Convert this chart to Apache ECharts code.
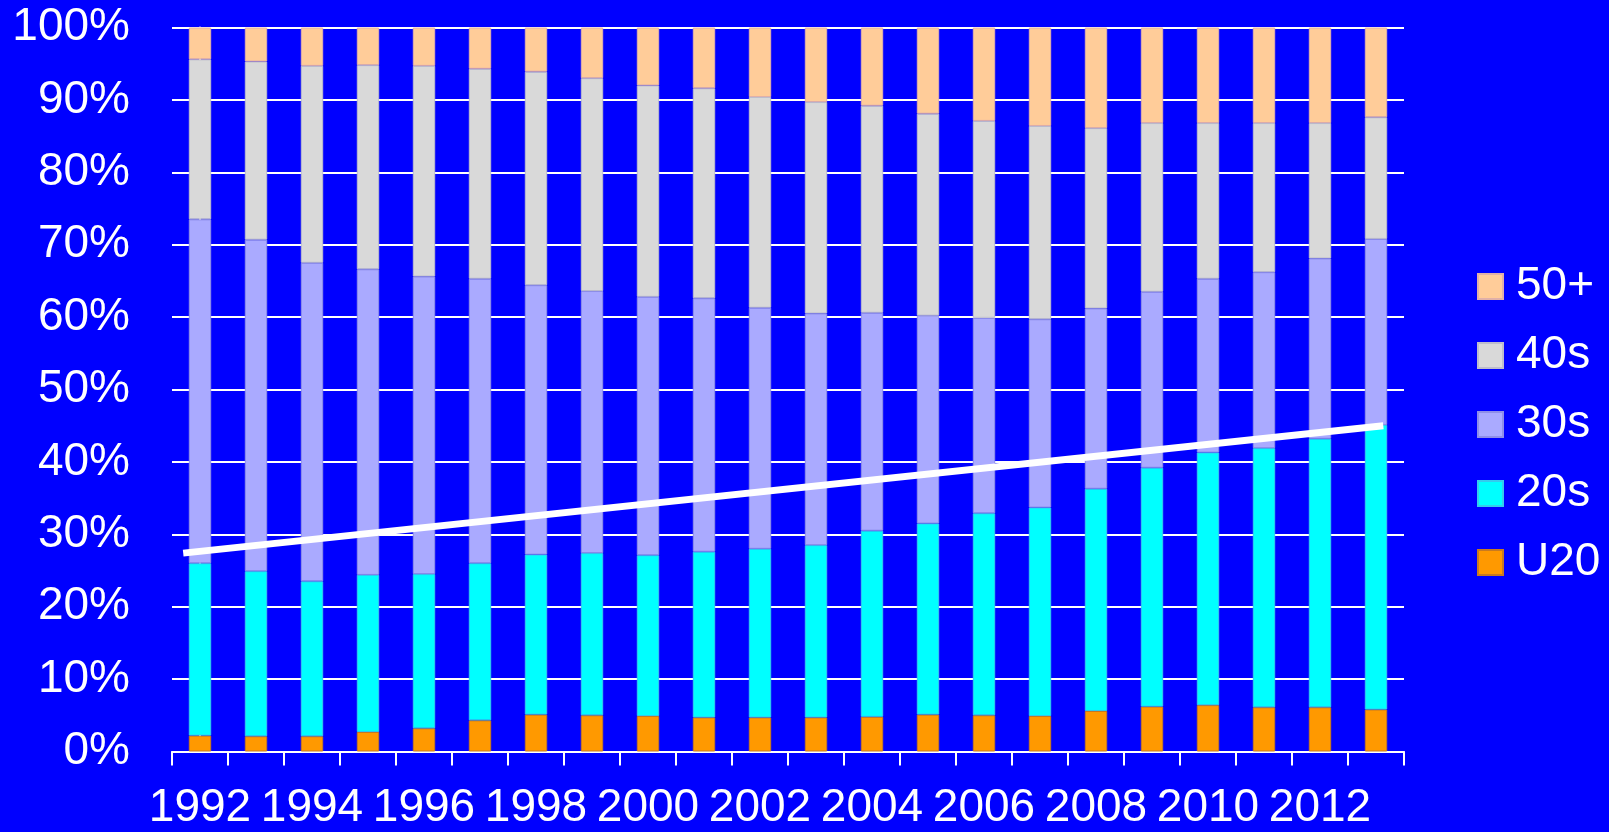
<!DOCTYPE html>
<html>
<head>
<meta charset="utf-8">
<script src="https://cdn.jsdelivr.net/npm/echarts@6/dist/echarts.min.js"></script>
<style>
html,body{margin:0;padding:0;background:#0000FF;}
#chart{width:1609px;height:832px;}
</style>
</head>
<body>
<div id="chart"></div>
<script>
var years = ['1992','1993','1994','1995','1996','1997','1998','1999','2000','2001','2002','2003','2004','2005','2006','2007','2008','2009','2010','2011','2012','2013'];
var u20  = [2.2,2.1,2.1,2.7,3.2,4.3,5.1,5.0,4.9,4.7,4.7,4.7,4.8,5.1,5.0,4.9,5.6,6.2,6.4,6.1,6.1,5.8];
var s20  = [23.8,22.8,21.4,21.7,21.3,21.7,22.1,22.4,22.2,22.9,23.3,23.8,25.7,26.4,27.9,28.8,30.7,33.0,34.9,35.8,37.1,39.3];
var s30  = [47.5,45.8,44.0,42.2,41.1,39.3,37.2,36.2,35.7,35.0,33.3,32.0,30.1,28.7,27.0,26.0,24.9,24.3,24.0,24.3,24.9,25.7];
var s40  = [22.1,24.6,27.2,28.2,29.1,29.0,29.5,29.4,29.2,29.0,29.1,29.2,28.6,27.9,27.2,26.7,24.9,23.3,21.5,20.6,18.7,16.8];
var s50  = [4.4,4.7,5.3,5.2,5.3,5.7,6.1,7.0,8.0,8.4,9.6,10.3,10.8,11.9,12.9,13.6,13.9,13.2,13.2,13.2,13.2,12.4];
var seriesNames = ['U20','20s','30s','40s','50+'];
var seriesColors = ['#FF9900','#00FFFF','#AAAAFF','#D9D9D9','#FFCC99'];
var seriesBorders = ['#C87A20','#33CCEE','#8F8FE8','#BDBDCC','#E0B0A8'];
var trendX = [-0.30, 21.13];
var trendY = [27.4, 45.0];
var yTicks = [0,10,20,30,40,50,60,70,80,90,100];

var font = 'Liberation Sans, Arial, sans-serif';
var values = [u20, s20, s30, s40, s50];
var series = seriesNames.map(function(n, i){
  return {
    name: n, type: 'bar', stack: 'total', barWidth: '40%',
    data: values[i],
    itemStyle: {color: seriesColors[i], borderColor: seriesBorders[i], borderWidth: 1},
    silent: true
  };
});
series.push({
  name: 'trend', type: 'line', xAxisIndex: 1,
  data: [[trendX[0], trendY[0]], [trendX[1], trendY[1]]],
  symbol: 'none', lineStyle: {color: '#FFFFFF', width: 7, cap: 'butt'},
  silent: true, z: 10
});

var chart = echarts.init(document.getElementById('chart'), null, {renderer: 'canvas'});
chart.setOption({
  backgroundColor: '#0000FF',
  animation: false,
  textStyle: {fontFamily: font},
  grid: {left: 172, right: 205, top: 27.5, bottom: 80.5, containLabel: false},
  legend: {
    data: ['50+','40s','30s','20s','U20'],
    orient: 'vertical', left: 1472, top: 258.5,
    icon: 'rect', itemWidth: 25, itemHeight: 25, itemGap: 23,
    textStyle: {color: '#FFFFFF', fontSize: 46, lineHeight: 46, fontFamily: font, padding: [0,0,0,8]},
    selectedMode: false
  },
  xAxis: [{
    type: 'category', data: years,
    axisLine: {show: true, lineStyle: {color: '#FFFFFF', width: 2}},
    axisTick: {show: true, interval: 0, length: 14, alignWithLabel: false, lineStyle: {color: '#FFFFFF', width: 2}},
    axisLabel: {interval: 1, color: '#FFFFFF', fontSize: 46, lineHeight: 46, margin: 34, fontFamily: font},
    splitLine: {show: false}
  }, {
    type: 'value', min: -0.5, max: 21.5, show: false
  }],
  yAxis: {
    type: 'value', min: yTicks[0], max: yTicks[yTicks.length-1], interval: 10,
    axisLine: {show: true, lineStyle: {color: '#FFFFFF', width: 2}},
    axisTick: {show: true, length: 14, lineStyle: {color: '#FFFFFF', width: 2}},
    axisLabel: {color: '#FFFFFF', fontSize: 46, margin: 42, fontFamily: font, formatter: '{value}%'},
    splitLine: {show: true, lineStyle: {color: '#FFFFFF', width: 2}}
  },
  series: series
});
</script>
</body>
</html>
